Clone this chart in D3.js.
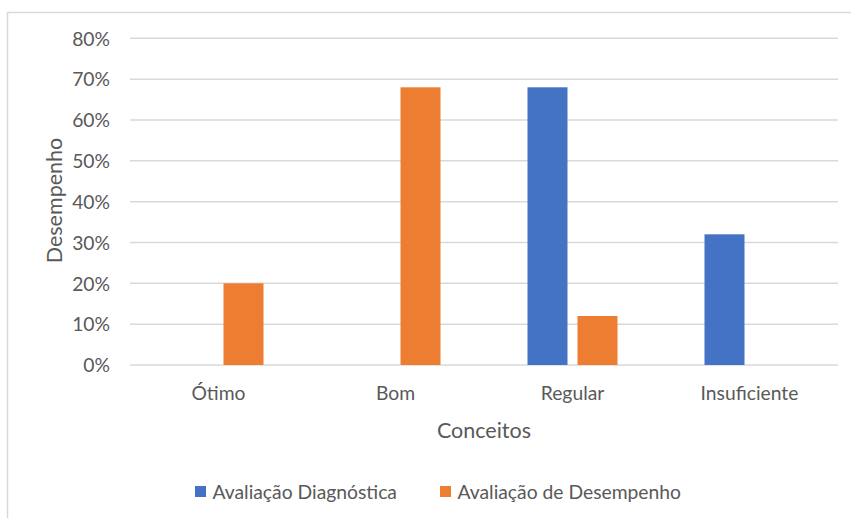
<!DOCTYPE html>
<html>
<head>
<meta charset="utf-8">
<script src="https://cdn.jsdelivr.net/npm/d3@7"></script>
<style>
  html, body { margin: 0; padding: 0; background: #fff; }
  svg { display: block; }
  text { font-family: Lato, "Open Sans", sans-serif; fill: #595959; }
</style>
</head>
<body>
<svg id="chart" width="851" height="518"></svg>
<script>
const categories = ["Ótimo", "Bom", "Regular", "Insuficiente"];
const seriesNames = ["Avaliação Diagnóstica", "Avaliação de Desempenho"];
const diagnostica = [0, 0, 0.68, 0.32];
const desempenho = [0.20, 0.68, 0.12, 0];
const yTicks = [0, 0.1, 0.2, 0.3, 0.4, 0.5, 0.6, 0.7, 0.8];
const colors = ["#4472C4", "#ED7D31"];

(function () {
const seriesValues = [diagnostica, desempenho];
const data = categories.map((c, i) => ({
  cat: c,
  values: seriesNames.map((s, j) => ({ s, v: seriesValues[j][i] }))
}));

const svg = d3.select("#chart");
const labelSize = 19.3, titleSize = 21.5;

svg.append("path")
  .attr("d", "M7.5,518 L7.5,12.5 L851,12.5")
  .attr("fill", "none").attr("stroke", "#d9d9d9").attr("stroke-width", 1.5);

const pLeft = 130, pRight = 838, pTop = 38.3, pBottom = 365;
const y = d3.scaleLinear().domain([0, 0.8]).range([pBottom, pTop]);
const x0 = d3.scaleBand().domain(categories).range([pLeft, pRight])
  .paddingInner(0.4915).paddingOuter(0.4915 / 2);
const x1 = d3.scaleBand().domain(seriesNames).range([0, x0.bandwidth()]).paddingInner(0.2);

svg.append("g").selectAll("line").data(yTicks).join("line")
  .attr("x1", pLeft).attr("x2", pRight)
  .attr("y1", d => y(d)).attr("y2", d => y(d))
  .attr("stroke", "#d9d9d9").attr("stroke-width", 1.5);

const yAxis = d3.axisLeft(y).tickValues(yTicks).tickFormat(d3.format(".0%")).tickSize(0).tickPadding(0);
const yg = svg.append("g").attr("transform", `translate(110,0)`).call(yAxis);
yg.select(".domain").remove();
yg.selectAll("text").attr("font-size", labelSize).attr("fill", "#595959")
  .style("font-family", "Lato, sans-serif").attr("dy", "0.35em");

const groups = svg.append("g").selectAll("g").data(data).join("g")
  .attr("transform", d => `translate(${x0(d.cat)},0)`);
groups.selectAll("rect").data(d => d.values.filter(e => e.v > 0)).join("rect")
  .attr("x", e => x1(e.s))
  .attr("width", x1.bandwidth())
  .attr("y", e => y(e.v))
  .attr("height", e => y(0) - y(e.v))
  .attr("fill", e => colors[seriesNames.indexOf(e.s)]);

const xAxis = d3.axisBottom(x0).tickSize(0).tickPadding(0);
const xg = svg.append("g").attr("transform", `translate(0,393)`).call(xAxis);
xg.select(".domain").remove();
xg.selectAll("text").attr("font-size", labelSize).attr("fill", "#595959")
  .style("font-family", "Lato, sans-serif").attr("dy", "0.35em").attr("y", 0);

svg.append("text").attr("x", 484).attr("y", 430).attr("dy", "0.35em")
  .attr("text-anchor", "middle").attr("font-size", titleSize).text("Conceitos");
svg.append("text").attr("transform", "translate(54,200.5) rotate(-90)").attr("dy", "0.35em")
  .attr("text-anchor", "middle").attr("font-size", titleSize).text("Desempenho");

const legendX = [195, 440];
const lg = svg.append("g").selectAll("g").data(seriesNames).join("g")
  .attr("transform", (d, i) => `translate(${legendX[i]},486)`);
lg.append("rect").attr("width", 11).attr("height", 11).attr("fill", (d, i) => colors[i]);
lg.append("text").attr("x", 17.5).attr("y", 6).attr("dy", "0.35em")
  .attr("font-size", labelSize).text(d => d);
})();
</script>
</body>
</html>
